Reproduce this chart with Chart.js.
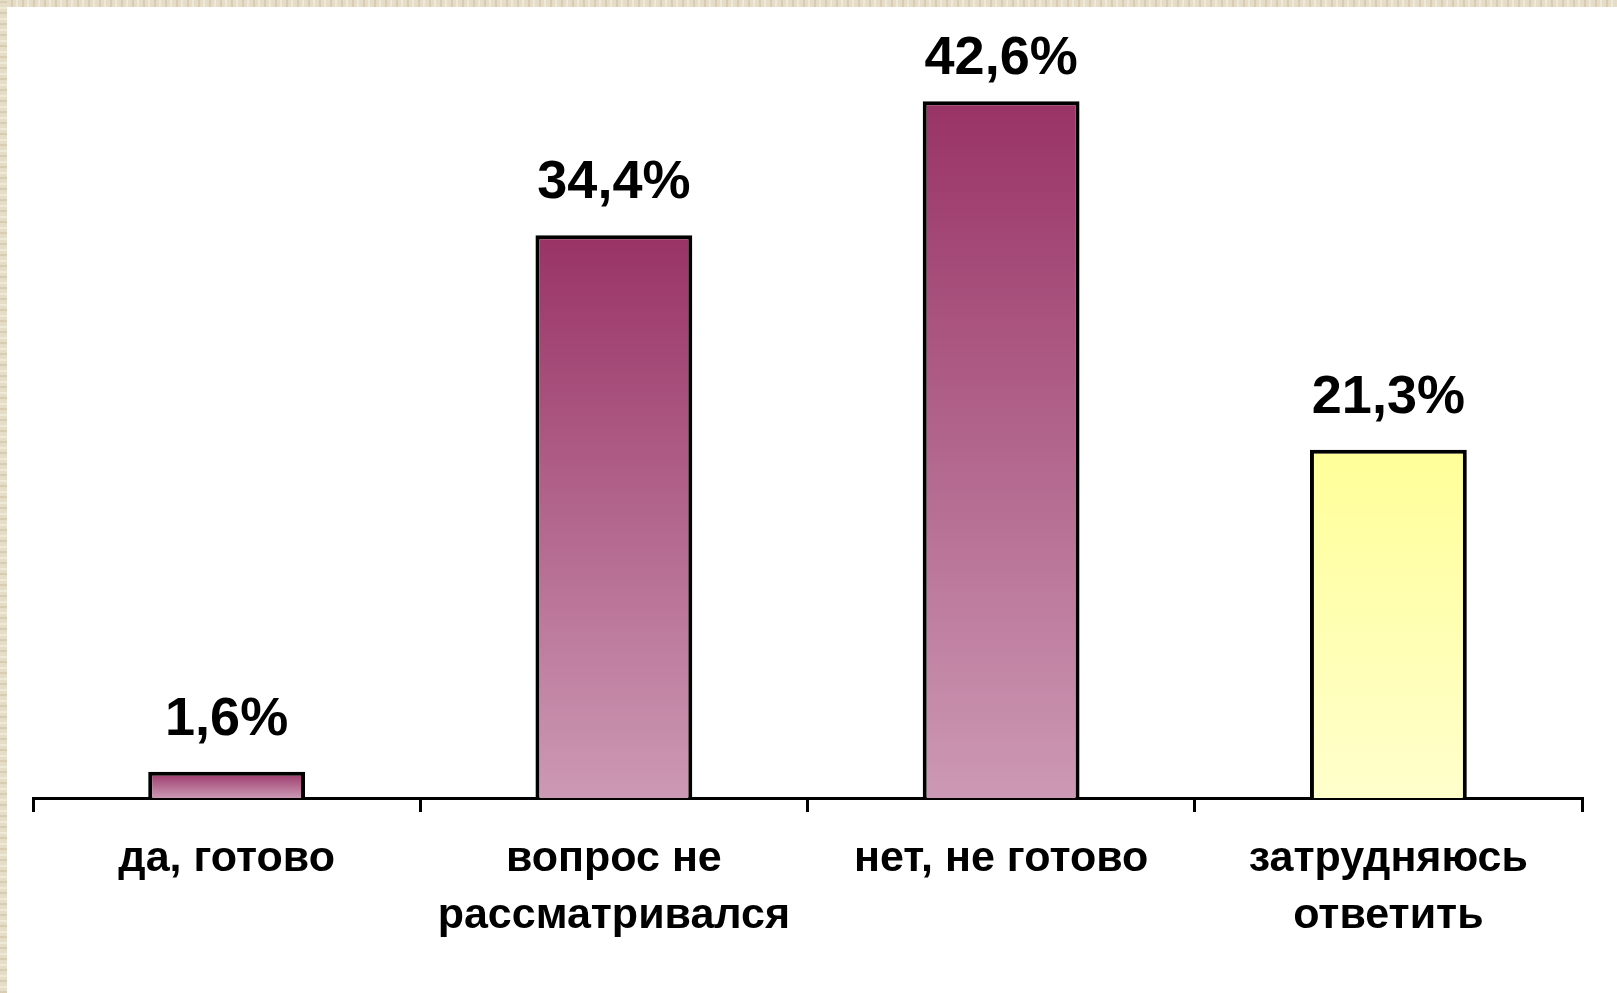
<!DOCTYPE html>
<html>
<head>
<meta charset="utf-8">
<script src="https://cdn.jsdelivr.net/npm/chart.js@4.4.1/dist/chart.umd.min.js"></script>
<style>
  html, body { margin: 0; padding: 0; background: #fff; overflow: hidden; }
  #wrap { position: relative; width: 1617px; height: 993px; }
  .band { position: absolute; background-color: #e6ddc9;
    background-image: repeating-linear-gradient(90deg, rgba(190,175,140,0.35) 0 2px, transparent 2px 5px, rgba(255,250,235,0.4) 5px 7px, transparent 7px 11px); }
  #bandTop { left: 0; top: 0; width: 1617px; height: 7px; }
  #bandLeft { left: 0; top: 0; width: 7px; height: 993px;
    background-image: repeating-linear-gradient(0deg, rgba(190,175,140,0.35) 0 2px, transparent 2px 5px, rgba(255,250,235,0.4) 5px 7px, transparent 7px 11px); }
  canvas { position: absolute; left: 0; top: 0; }
</style>
</head>
<body>
<div id="wrap">
  <div class="band" id="bandTop"></div>
  <div class="band" id="bandLeft"></div>
  <canvas id="chart" width="1617" height="993"></canvas>
</div>
<script>
"use strict";

// Данные опроса
const categories = [
  ["да, готово"],
  ["вопрос не", "рассматривался"],
  ["нет, не готово"],
  ["затрудняюсь", "ответить"],
];
const values = [1.6, 34.4, 42.6, 21.3];
const valueLabels = ["1,6%", "34,4%", "42,6%", "21,3%"];

// Цвета градиента (верх / низ) для каждого столбца
const topColors = ["#993366", "#993366", "#993366", "#ffff99"];
const bottomColors = ["#cc99b4", "#cc99b4", "#cc99b4", "#ffffcc"];

function barGradient(ctx) {
  const chart = ctx.chart;
  const area = chart.chartArea;
  const y = chart.scales.y;
  if (!area || !y) return topColors[ctx.dataIndex];
  const top = y.getPixelForValue(values[ctx.dataIndex]);
  const base = y.getPixelForValue(0);
  const g = chart.ctx.createLinearGradient(0, top, 0, base);
  g.addColorStop(0, topColors[ctx.dataIndex]);
  g.addColorStop(1, bottomColors[ctx.dataIndex]);
  return g;
}

// Подписи значений над столбцами
const valueLabelPlugin = {
  id: "valueLabels",
  afterDatasetsDraw(chart) {
    const c = chart.ctx;
    const meta = chart.getDatasetMeta(0);
    c.save();
    c.font = "bold 54px 'Liberation Sans', Arial, sans-serif";
    c.fillStyle = "#000";
    c.textAlign = "center";
    c.textBaseline = "middle";
    meta.data.forEach((bar, i) => {
      const yPos = Math.max(bar.y - 52, 59);
      c.fillText(valueLabels[i], bar.x, yPos);
    });
    c.restore();
  },
};

new Chart(document.getElementById("chart"), {
  type: "bar",
  data: {
    labels: categories,
    datasets: [
      {
        data: values,
        backgroundColor: barGradient,
        borderColor: "#000",
        borderWidth: 4,
        borderSkipped: "start",
        categoryPercentage: 1,
        barPercentage: 0.405,
      },
    ],
  },
  options: {
    responsive: false,
    animation: false,
    events: [],
    layout: { padding: { left: 33, right: 35, top: 62, bottom: 0 } },
    plugins: { legend: { display: false }, tooltip: { enabled: false } },
    scales: {
      y: {
        display: false,
        min: 0,
        max: 45,
      },
      x: {
        offset: true,
        afterFit(scale) {
          scale.height = 195;
        },
        border: { display: true, color: "#000", width: 3 },
        grid: {
          offset: true,
          drawOnChartArea: false,
          drawTicks: true,
          tickLength: 14,
          color: "#000",
          lineWidth: 3,
        },
        ticks: {
          color: "#000",
          padding: 19,
          maxRotation: 0,
          autoSkip: false,
          font: { family: "'Liberation Sans', Arial, sans-serif", size: 43, weight: "bold", lineHeight: 1.32 },
        },
      },
    },
  },
  plugins: [valueLabelPlugin],
});
</script>
</body>
</html>
